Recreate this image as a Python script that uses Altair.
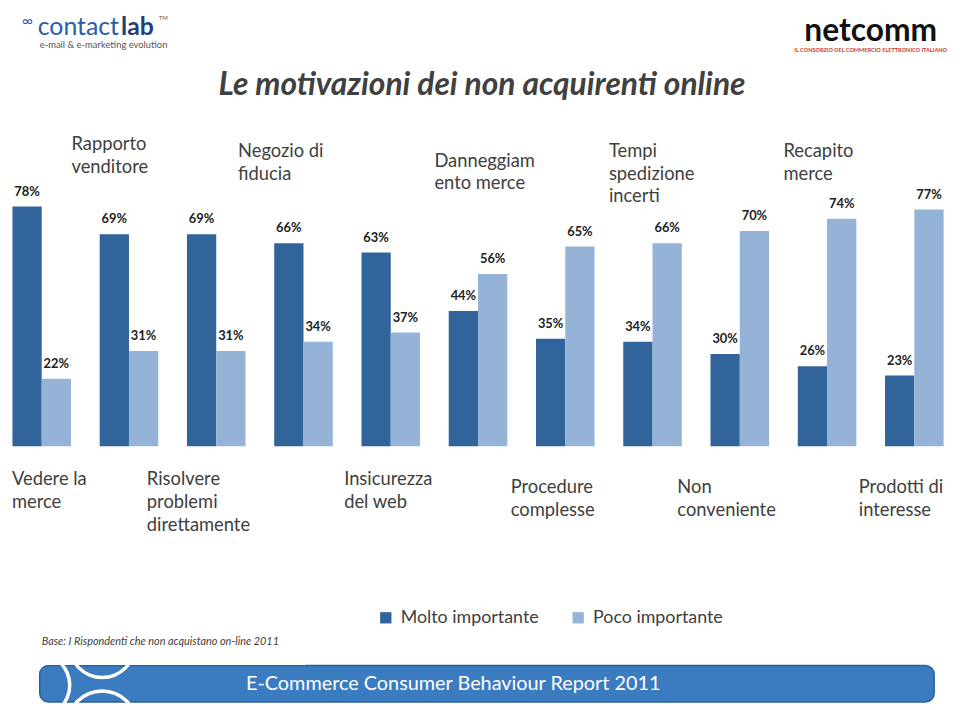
import altair as alt
import pandas as pd

categories = [
    "Vedere la merce", "Rapporto venditore", "Risolvere problemi direttamente",
    "Negozio di fiducia", "Insicurezza del web", "Danneggiamento merce",
    "Procedure complesse", "Tempi spedizione incerti", "Non conveniente",
    "Recapito merce", "Prodotti di interesse",
]
cat_labels = [
    "Vedere la\nmerce", "Rapporto\nvenditore", "Risolvere\nproblemi\ndirettamente",
    "Negozio di\nfiducia", "Insicurezza\ndel web", "Danneggiam\nento merce",
    "Procedure\ncomplesse", "Tempi\nspedizione\nincerti", "Non\nconveniente",
    "Recapito\nmerce", "Prodotti di\ninteresse",
]
molto = [78, 69, 69, 66, 63, 44, 35, 34, 30, 26, 23]
poco = [22, 31, 31, 34, 37, 56, 65, 66, 70, 74, 77]
series = ["Molto importante", "Poco importante"]
colors = ["#31649A", "#95B3D7"]

rows = []
for c, m, p in zip(categories, molto, poco):
    rows.append({"cat": c, "serie": series[0], "val": m})
    rows.append({"cat": c, "serie": series[1], "val": p})
df = pd.DataFrame(rows)
df["lab"] = df["val"].astype(str) + "%"

lab_df = pd.DataFrame({"cat": categories, "lab": cat_labels, "i": list(range(len(categories)))})

FONT = "Lato"
TXT = "#404040"

xscale = alt.Scale(domain=categories, range=[-10, 958], paddingInner=0, paddingOuter=0)
yscale = alt.Scale(domain=[0, 141.6])
offscale = alt.Scale(domain=series, paddingOuter=0.49, paddingInner=0)

X = alt.X("cat:N", scale=xscale, sort=categories,
          axis=alt.Axis(title=None, labels=False, tickBand="extent", domainColor="#BFBFBF",
                        tickColor="#BFBFBF", tickSize=5, grid=False))

bars = alt.Chart(df).mark_bar().encode(
    x=X,
    xOffset=alt.XOffset("serie:N", scale=offscale),
    y=alt.Y("val:Q", scale=yscale, axis=None),
    color=alt.Color("serie:N", scale=alt.Scale(domain=series, range=colors),
                    legend=alt.Legend(title=None, orient="none", direction="horizontal",
                                      legendX=372, legendY=603, symbolType="square",
                                      symbolSize=130, symbolStrokeWidth=0, labelFontSize=18,
                                      labelFont=FONT, labelColor=TXT, columnPadding=30,
                                      labelOffset=6, padding=0)),
)

vals = alt.Chart(df).mark_text(font=FONT, fontWeight="bold", fontSize=13, color="#222222",
                               baseline="middle", dy=-15).encode(
    x=alt.X("cat:N", scale=xscale, sort=categories, axis=None),
    xOffset=alt.XOffset("serie:N", scale=offscale),
    y=alt.Y("val:Q", scale=yscale, axis=None),
    text="lab:N",
)

# nudges (layout only): (index, dx, first-line centre y in page px)
nudges = [(0, 14, 482), (1, -14, 144), (2, -26, 482), (3, -22, 151), (4, -3, 482),
          (5, 0, 161), (6, -11, 490), (7, 0, 151), (8, -19, 490), (9, 0, 151), (10, -12, 490)]
label_layers = []
for i, dx, yc in nudges:
    label_layers.append(
        alt.Chart(lab_df).transform_filter(alt.datum.i == i).mark_text(
            font=FONT, fontSize=18.5, color=TXT, align="left", baseline="top",
            lineBreak="\n", lineHeight=23, dx=dx).encode(
            x=alt.X("cat:N", scale=xscale, sort=categories, axis=None, bandPosition=0),
            y=alt.value(yc - 8 - 11),
            text="lab:N",
        )
    )

one = pd.DataFrame({"k": [0]})

def txt(s, x, y, size, color=TXT, weight="normal", style="normal", align="left", font=FONT):
    return alt.Chart(one).mark_text(text=s, fontSize=size, color=color, fontWeight=weight,
                                    fontStyle=style, align=align, baseline="middle", font=font).encode(
        x=alt.value(x - 8), y=alt.value(y - 8))

title = txt("Le motivazioni dei non acquirenti online", 486, 83, 32, weight="bold",
            style="italic", align="center")

# logos
logo1a = txt("contact", 38, 24, 25, color="#2A5DA8")
logo1b = txt("lab", 122, 24, 25, color="#1F3F7A", weight="bold")
logo1c = txt("TM", 160, 15, 6, color="#555555")
logo1d = txt("e-mail & e-marketing evolution", 40, 42, 9.5, color="#555555")
logo1e = txt("\u221e", 22, 18, 15, color="#2A5DA8")
logo2a = txt("netcomm", 878, 28, 32, color="#111111", weight="bold", align="center")
logo2b = txt("IL CONSORZIO DEL COMMERCIO ELETTRONICO ITALIANO", 878, 47, 5.6,
             color="#C8372D", weight="bold", align="center")

# banner
banner = alt.Chart(one).mark_rect(fill="#3B7BC0", stroke="#2C5F95", strokeWidth=1.5,
                                  cornerRadius=9).encode(
    x=alt.value(40 - 8), x2=alt.value(942 - 8), y=alt.value(668 - 8), y2=alt.value(705 - 8))

def ring(cx, cy, r):
    return alt.Chart(one).mark_arc(theta=0, theta2=6.2832, radius=r, radius2=r - 3.5,
                                   fill="white").encode(x=alt.value(cx - 8), y=alt.value(cy - 8))

rings = [ring(38, 688, 34), ring(103, 647, 35), ring(103, 729, 37)]
white_mask_top = alt.Chart(one).mark_rect(fill="white").encode(
    x=alt.value(0), x2=alt.value(300), y=alt.value(600), y2=alt.value(668 - 8 - 0.5))
white_mask_bot = alt.Chart(one).mark_rect(fill="white").encode(
    x=alt.value(0), x2=alt.value(300), y=alt.value(705 - 8 + 1), y2=alt.value(710))
banner_txt = txt("E-Commerce Consumer Behaviour Report 2011", 457, 687, 20, color="white",
                 align="center")
foot = txt("Base: I Rispondenti che non acquistano on-line 2011", 42, 644, 11, style="italic")

chart = alt.layer(
    bars, vals, *label_layers, title, logo1a, logo1b, logo1c, logo1d, logo1e, logo2a, logo2b,
    banner, *rings, white_mask_top, white_mask_bot, banner_txt, foot,
).resolve_scale(x="shared").properties(
    width=952, height=439,
    autosize=alt.AutoSizeParams(type="none"),
    padding={"left": 0, "top": 0, "right": 0, "bottom": 263},
    background="white",
).configure(font=FONT).configure_view(strokeWidth=0, stroke="transparent")

chart.save("out.html", embed_options={"renderer": "svg", "actions": False})
